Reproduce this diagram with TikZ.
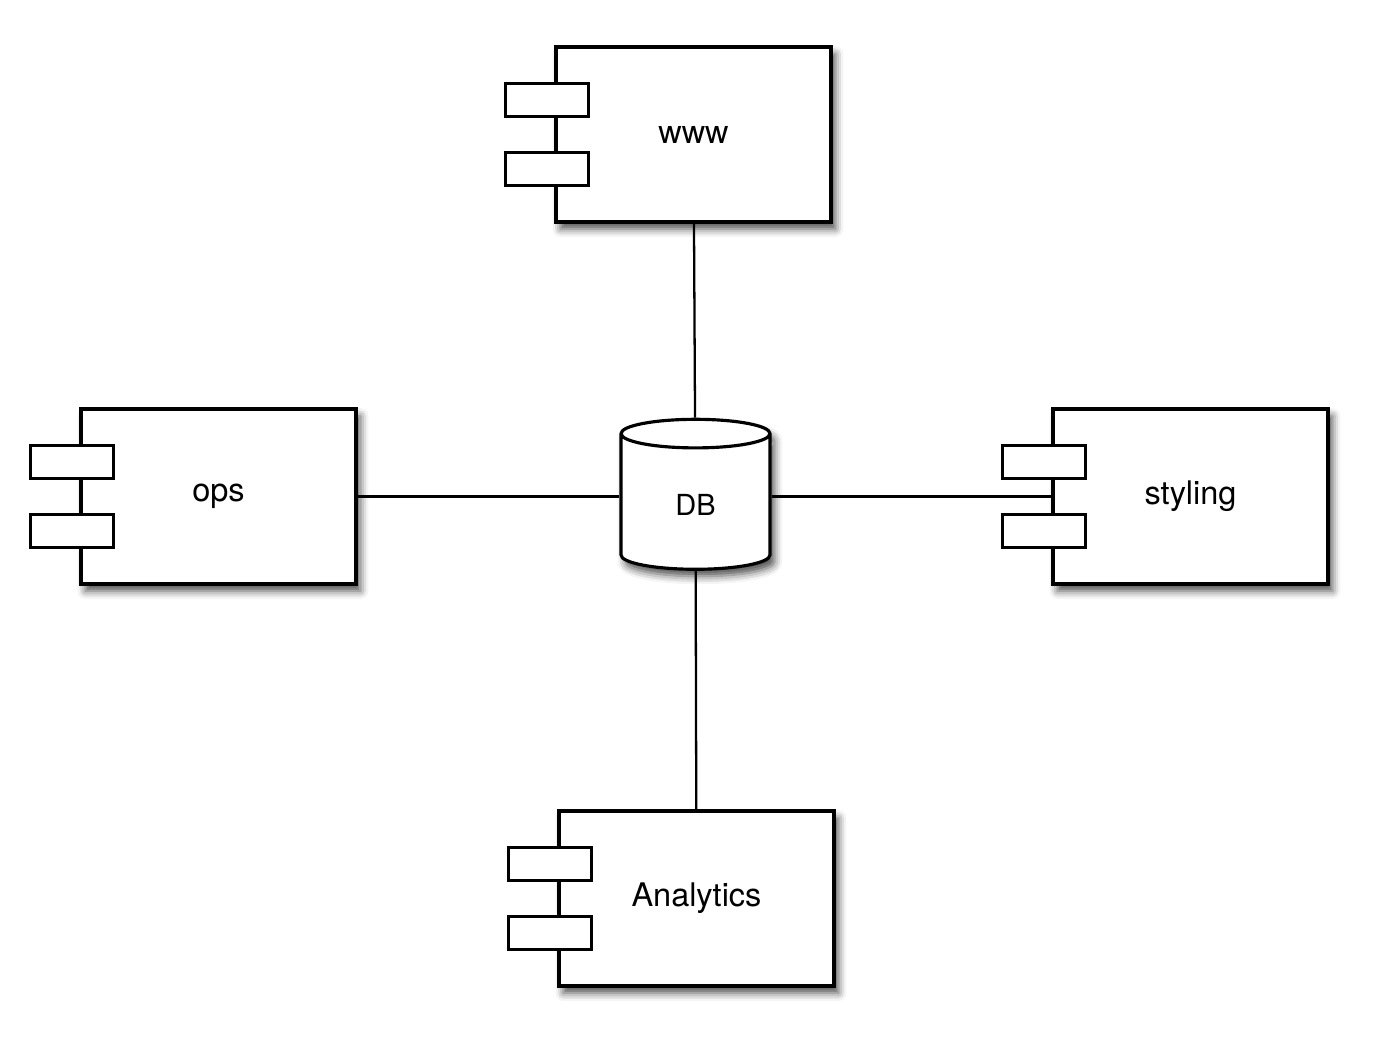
\documentclass[tikz,border=0pt]{standalone}
\usepackage{fontspec}
\setmainfont{TeX Gyre Heros}
\usetikzlibrary{shapes.geometric, shadows.blur}

\begin{document}
\begin{tikzpicture}[x = 0.02cm, y = -0.02cm, % one unit is one pixel of the sketch
                line width = 1.8pt, % line style of the shapes
                soft/.style = {blur shadow = {shadow xshift = 2.5pt, shadow yshift = -4pt,
                    shadow blur radius = 4.5pt, shadow opacity = 70}}
            ]

            \tikzstyle{comp}=[draw = black, fill = white, rectangle, soft,
            minimum width = 5.5cm, minimum height = 3.5cm,
            font = \fontsize{18.5}{22}\selectfont]
            \tikzstyle{port}=[draw = black, fill = white, rectangle,
            inner sep = 0pt, minimum width = 1.66cm, minimum height = 0.66cm]
            \tikzstyle{store}=[draw = black, fill = white, cylinder, soft,
            shape border rotate = 90, aspect = 0.55,
            minimum width = 2.98cm, minimum height = 3cm,
            font = \fontsize{16.5}{20}\selectfont]
            \tikzstyle{wire}=[line width = 1.3pt]

            \useasboundingbox (0,0) rectangle (1383,1052);

            \node[comp] (www) at (693.5,134.5) {www};
            \node[comp] (ops) at (218.5,496.5) {ops};
            \node[comp] (styling) at (1190.5,496.5) {styling};
            \node[comp] (analytics) at (696.5,898.5) {Analytics};
            \node[store] (db) at (695.5,505) {DB};

            % the two ports on the left side of each component
            \foreach \c in {www, ops, styling, analytics} {
                \node[port] (\c-up) at ([xshift = -0.15cm, yshift = 0.69cm]\c.west) {};
                \node[port] (\c-down) at ([xshift = -0.15cm, yshift = -0.69cm]\c.west) {};
            }

            \draw[wire] (www) -- (db); \draw[wire] (ops) -- (ops -| db.west);
            \draw[wire] (styling -| db.east) -- (styling); \draw[wire] (db) -- (analytics);

        \end{tikzpicture}
\end{document}
